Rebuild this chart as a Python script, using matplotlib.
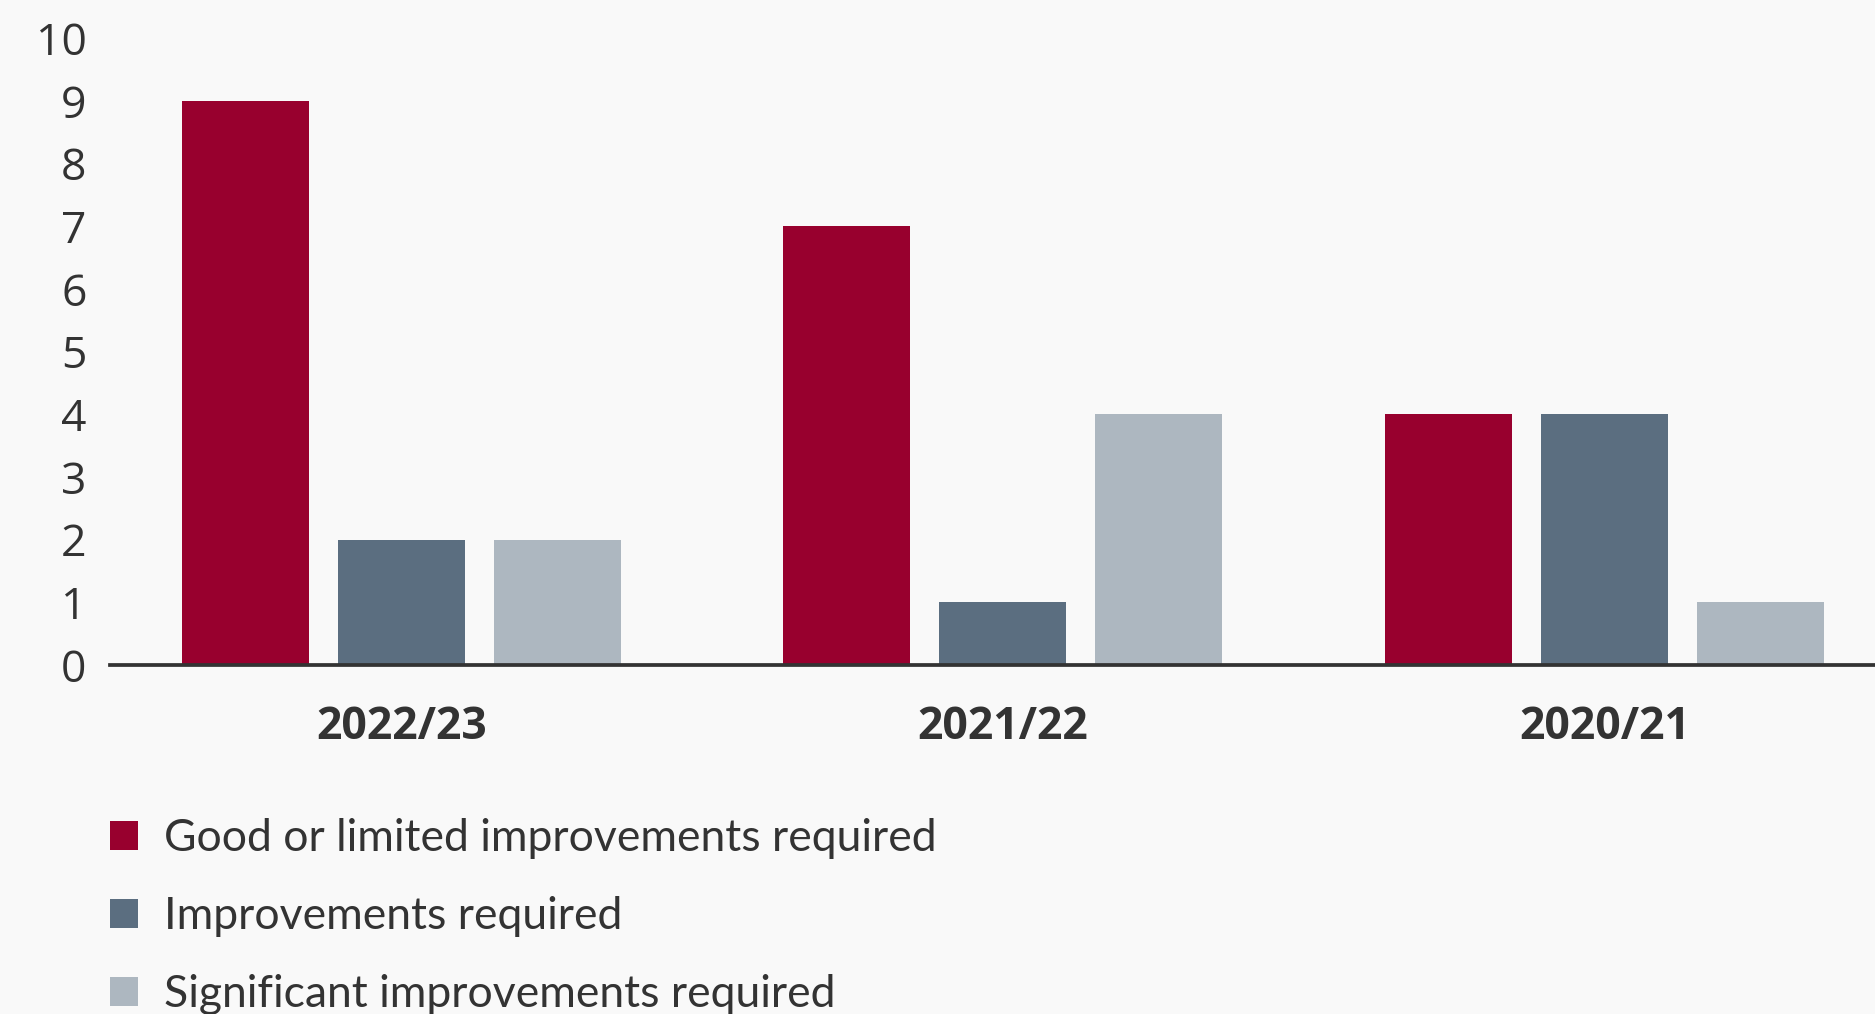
import matplotlib
matplotlib.use("Agg")
import matplotlib.pyplot as plt
import numpy as np

years = ["2022/23", "2021/22", "2020/21"]
series_names = [
    "Good or limited improvements required",
    "Improvements required",
    "Significant improvements required",
]
good_or_limited = [9, 7, 4]
improvements = [2, 1, 4]
significant = [2, 4, 1]
colors = ["#98002E", "#5B6E80", "#ADB7C0"]

BG = "#F9F9F9"
TEXT = "#333333"
TICK_FONT = "Open Sans"
LEGEND_FONT = "Lato"

fig = plt.figure(figsize=(18.75, 10.14), dpi=100, facecolor=BG)
ax = fig.add_axes([0.0587, 0.3443, 0.9413, 0.618])
ax.set_facecolor(BG)

x = np.arange(len(years))
width = 0.211
step = 0.2594
handles = []
for i, (vals, name, col) in enumerate(zip([good_or_limited, improvements, significant], series_names, colors)):
    b = ax.bar(x + (i - 1) * step, vals, width, color=col, label=name, zorder=2)
    handles.append(b)

ax.set_xlim(-0.484, 2.45)
ax.set_ylim(0, 10)
ax.set_yticks(range(0, 11))
ax.set_xticks(x)
ax.set_xticklabels(years)
ax.tick_params(axis="y", length=0, pad=17)
ax.tick_params(axis="x", length=0, pad=29)
for lbl in ax.get_yticklabels():
    lbl.set_fontfamily(TICK_FONT)
    lbl.set_fontsize(32)
    lbl.set_color(TEXT)
for lbl in ax.get_xticklabels():
    lbl.set_fontfamily(TICK_FONT)
    lbl.set_fontsize(32)
    lbl.set_fontweight("bold")
    lbl.set_color(TEXT)

for side in ["top", "right", "left"]:
    ax.spines[side].set_visible(False)
ax.spines["bottom"].set_color(TEXT)
ax.spines["bottom"].set_linewidth(2.7)
ax.spines["bottom"].set_zorder(3)

leg = fig.legend(
    handles=handles,
    labels=series_names,
    loc="upper left",
    bbox_to_anchor=(0.0587, 0.193),
    frameon=False,
    handlelength=0.62,
    handleheight=0.62,
    handletextpad=0.6,
    labelspacing=0.83,
    borderpad=0,
    borderaxespad=0,
    prop={"family": LEGEND_FONT, "size": 32},
)
for t in leg.get_texts():
    t.set_color(TEXT)

fig.savefig("out.png", dpi=100, facecolor=BG)
